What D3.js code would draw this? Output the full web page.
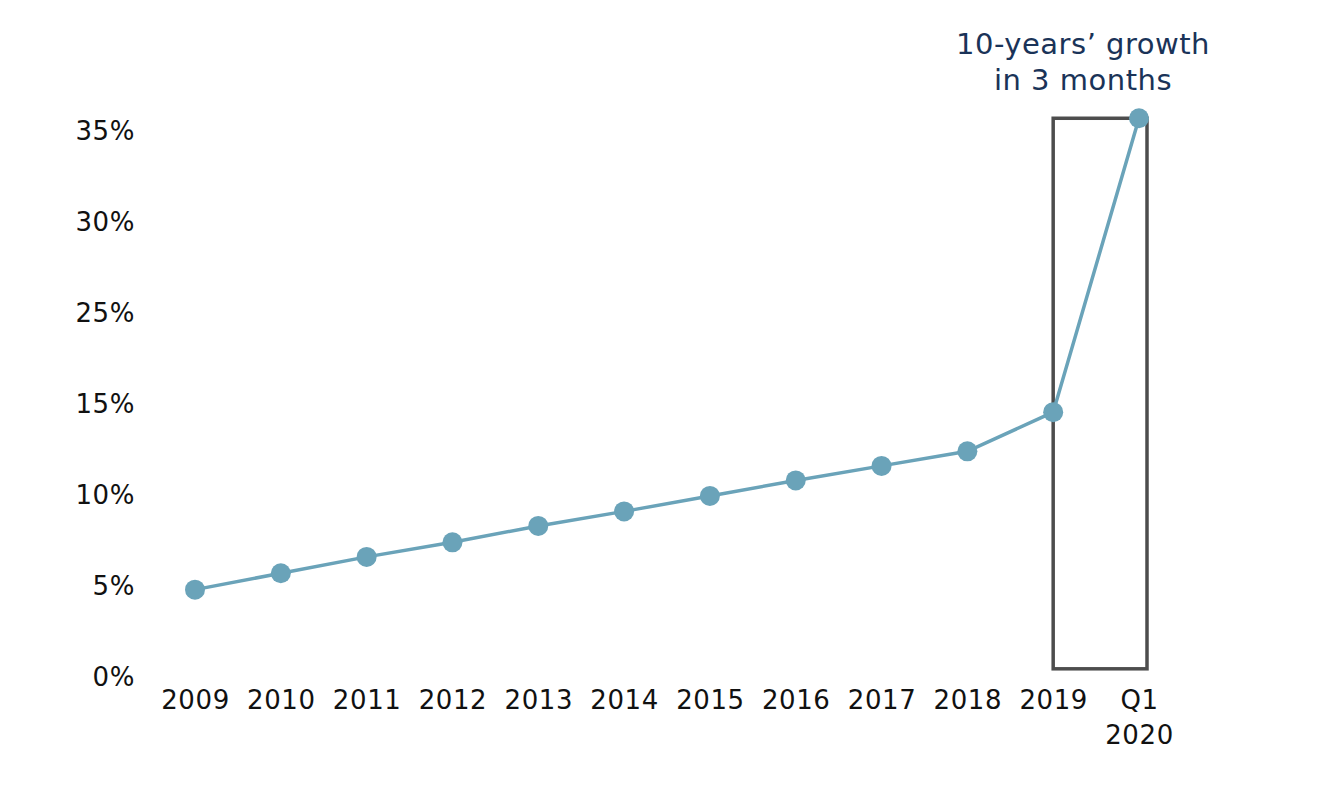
<!DOCTYPE html>
<html>
<head>
<meta charset="utf-8">
<script src="https://cdn.jsdelivr.net/npm/d3@7"></script>
<style>
  body { margin: 0; background: #fff; }
  text { font-family: "DejaVu Sans", sans-serif; }
</style>
</head>
<body>
<svg id="chart" width="1333" height="800"></svg>
<script>
// data
var periods = ["2009", "2010", "2011", "2012", "2013", "2014", "2015", "2016", "2017", "2018", "2019", "Q1 2020"];
var shares = [4.8, 5.7, 6.6, 7.4, 8.3, 9.1, 9.95, 10.8, 11.6, 12.4, 14.55, 35.7];
// the original axis skips 20%, so ticks are evenly spaced but not evenly valued
var yTicks = [0, 5, 10, 15, 25, 30, 35];
var note = ["10-years\u2019 growth", "in 3 months"];

var svg = d3.select("#chart");

var x = d3.scalePoint()
    .domain(periods)
    .range([195, 1139]);

// piecewise scale so each labelled tick sits one step apart
var y = d3.scaleLinear()
    .domain(yTicks)
    .range(yTicks.map(function(d, i) { return 677 - i * 91; }));

// highlight box around the last quarter
svg.append("rect")
    .attr("x", x("2019"))
    .attr("y", y(shares[11]))
    .attr("width", x("Q1 2020") + 8 - x("2019"))
    .attr("height", y(0.45) - y(shares[11]))
    .attr("fill", "none")
    .attr("stroke", "#4d4d4d")
    .attr("stroke-width", 3.5);

var line = d3.line()
    .x(function(d, i) { return x(periods[i]); })
    .y(function(d) { return y(d); });

svg.append("path")
    .datum(shares)
    .attr("fill", "none")
    .attr("stroke", "#6aa3b9")
    .attr("stroke-width", 3.5)
    .attr("d", line);

svg.selectAll(".dot")
    .data(shares)
    .enter().append("circle")
      .attr("class", "dot")
      .attr("cx", function(d, i) { return x(periods[i]); })
      .attr("cy", function(d) { return y(d); })
      .attr("r", 10)
      .attr("fill", "#6aa3b9");

// y axis labels
var yAxis = svg.append("g")
    .attr("transform", "translate(135,0)")
    .call(d3.axisLeft(y).tickValues(yTicks).tickSize(0).tickPadding(0)
      .tickFormat(function(d) { return d + "%"; }));
yAxis.select(".domain").remove();
yAxis.selectAll("text")
    .attr("font-size", 26)
    .attr("fill", "#111")
    .style("letter-spacing", "0.6px")
    .style("font-family", "'DejaVu Sans', sans-serif");

// x axis labels (two lines for the quarter)
var xAxis = svg.append("g")
    .attr("transform", "translate(0,688)")
    .call(d3.axisBottom(x).tickSize(0).tickPadding(0).tickFormat(""));
xAxis.select(".domain").remove();
xAxis.selectAll(".tick").append("text")
    .attr("text-anchor", "middle")
    .attr("font-size", 26)
    .attr("fill", "#111")
    .style("letter-spacing", "0.6px")
    .style("font-family", "'DejaVu Sans', sans-serif")
    .selectAll("tspan")
    .data(function(d) { return d.split(" "); })
    .enter().append("tspan")
      .attr("x", 0)
      .attr("y", function(d, i) { return 21 + i * 35; })
      .text(function(d) { return d; });

// annotation
svg.append("text")
    .attr("text-anchor", "middle")
    .attr("font-size", 29)
    .attr("fill", "#1a3358")
    .style("letter-spacing", "0.5px")
    .selectAll("tspan")
    .data(note)
    .enter().append("tspan")
      .attr("x", 1083)
      .attr("y", function(d, i) { return 54 + i * 36; })
      .text(function(d) { return d; });
</script>
</body>
</html>
